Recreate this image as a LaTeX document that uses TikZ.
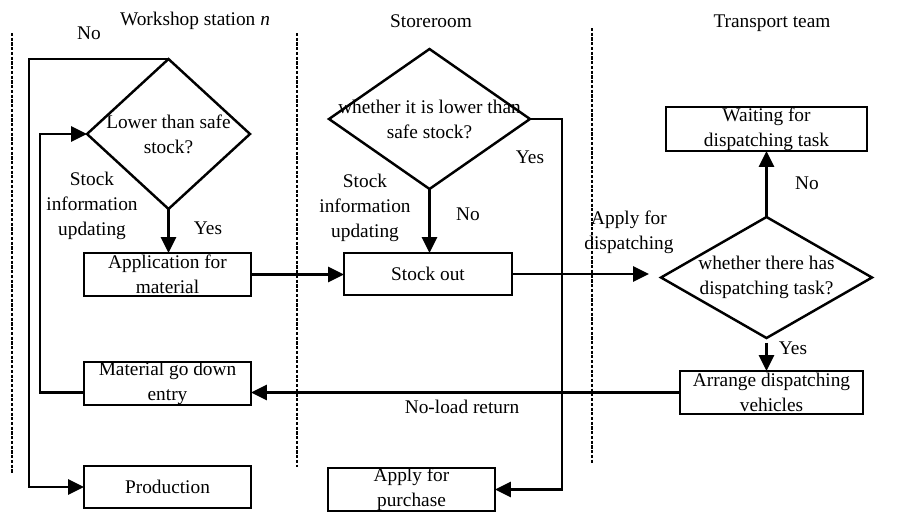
\documentclass[tikz,border=0pt]{standalone}
\usepackage{fontspec}
\setmainfont{Liberation Serif}
\usetikzlibrary{shapes.geometric,arrows.meta}

\begin{document}
\begin{tikzpicture}[x=0.02cm,y=-0.02cm,font=\fontsize{11}{14.2}\selectfont,
  stepbox/.style={draw,line width=1.4pt,inner sep=0pt,outer sep=0pt,align=center,minimum height=0.86cm},
  decision/.style={draw,diamond,line width=1.4pt,inner sep=0pt,outer sep=0pt},
  flow/.style={line width=1.4pt,-{Triangle[length=9pt,width=8.5pt]}},
  lane/.style={line width=1.1pt,dash pattern=on 1.8pt off 0.9pt},
  note/.style={align=center,inner sep=0pt}]

\useasboundingbox (0,0) rectangle (909,511);

% swim lanes
\foreach \x/\ya/\yb in {12/33/473,297/33/467,592/28/463}
  \draw[lane] (\x,\ya) -- (\x,\yb);

\node[note] (ws) at (195,21) {Workshop station \textit{n}};
\node[note] (sr) at (431,21) {Storeroom};
\node[note] (tt) at (772,23) {Transport team};

% workshop station
\node[decision,minimum width=3.26cm,minimum height=3cm] (d1) at (168.5,134) {};
\node[note] (d1t) at (d1) {Lower than safe\\stock?};
\node[stepbox,minimum width=3.34cm] (app) at (167.5,274.5) {Application for\\material};
\node[stepbox,minimum width=3.34cm] (mat) at (167.5,383.5) {Material go down\\entry};
\node[stepbox,minimum width=3.34cm,minimum height=0.84cm] (prod) at (167.5,487) {Production};

% storeroom
\node[decision,minimum width=4.02cm,minimum height=2.8cm] (d2) at (429.5,119) {};
\node[note] (d2t) at (d2) {whether it is lower than\\safe stock?};
\node[stepbox,minimum width=3.36cm,minimum height=0.84cm] (so) at (428,274) {Stock out};
\node[stepbox,minimum width=3.34cm] (pur) at (411.5,489.5) {Apply for\\purchase};

% transport team
\node[stepbox,minimum width=4.02cm,minimum height=0.88cm] (wait) at (766.5,129) {Waiting for\\dispatching task};
\node[decision,minimum width=4.22cm,minimum height=2.42cm] (d3) at (766.5,277.5) {};
\node[note] (d3t) at (d3) {whether there has\\dispatching task?};
\node[stepbox,minimum width=3.66cm] (arr) at (771.5,392.5) {Arrange dispatching\\vehicles};

% labels on the lines
\node[note] (no1) at (89,33) {No};
\node[note] (upd1) at (92,206) {Stock\\information\\updating};
\node[note] (yes1) at (208,228) {Yes};
\node[note] (upd2) at (365,208) {Stock\\information\\updating};
\node[note] (no2) at (468,214) {No};
\node[note] (yes2) at (530,157) {Yes};
\node[note] (disp) at (629,232) {Apply for\\dispatching};
\node[note] (no3) at (807,183) {No};
\node[note] (yes3) at (793,348) {Yes};
\node[note] (ret) at (462,407) {No-load return};

% corners of the return lines
\coordinate (c1) at (29,0);
\coordinate (c3) at (40,0);
\coordinate (c2) at (562,0);

\draw[flow] (d1.south) -- (d1.south |- app.north);
\draw[flow] (app.east) -- (app.east -| so.west);
\draw[flow] (d2.south) -- (d2.south |- so.north);
\draw[flow,shorten >=0.24cm] (so.east) -- (so.east -| d3.west);
\draw[flow] (d3.north) -- (wait.south);
\draw[flow,shorten <=0.1cm] (d3.south) -- (d3.south |- arr.north);
\draw[flow] (arr.west) -- (arr.west -| mat.east);
\draw[flow] (d2.east) -- (d2.east -| c2) -- (c2 |- pur.east) -- (pur.east);
\draw[flow] (d1.north) -- (d1.north -| c1) -- (c1 |- prod.west) -- (prod.west);
\draw[flow] (arr.west -| mat.west) -- (arr.west -| c3) -- (c3 |- d1.west) -- (d1.west);

\end{tikzpicture}
\end{document}
